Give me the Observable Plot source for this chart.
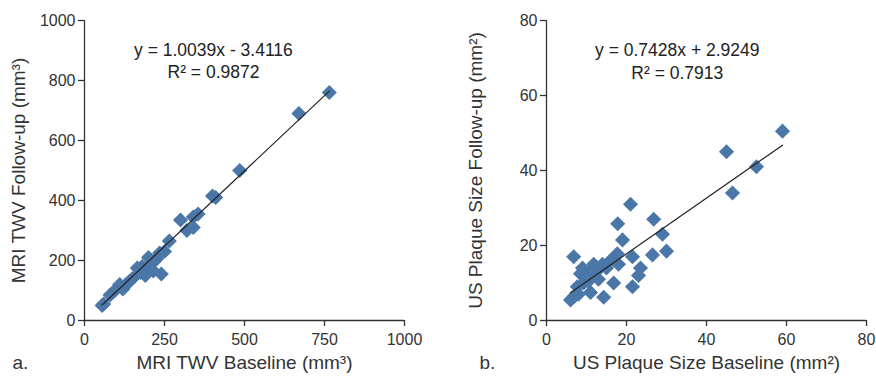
<!DOCTYPE html>
<html>
<head>
<meta charset="utf-8">
<script src="https://cdn.jsdelivr.net/npm/d3@7"></script>
<script src="https://cdn.jsdelivr.net/npm/@observablehq/plot@0.6"></script>
<style>
  html, body { margin: 0; padding: 0; background: #fff; }
  #wrap { display: flex; width: 876px; height: 380px; }
</style>
</head>
<body>
<div id="wrap"></div>
<script>
// ---- Panel a: MRI TWV (mm³)
const aBaseline = [765, 670, 485, 400, 410, 355, 340, 300, 320, 340, 265, 235, 225, 215, 200, 180, 165, 240, 215, 190, 150, 140, 110, 95, 80, 60, 55, 200, 175, 130, 250, 120];
const aFollow   = [760, 690, 500, 415, 410, 355, 345, 335, 300, 310, 265, 225, 205, 195, 185, 180, 175, 155, 165, 150, 140, 130, 120, 100, 85, 55, 50, 210, 160, 120, 230, 105];
const aSlope = 1.0039, aIntercept = -3.4116, aR2 = "0.9872";
const aXTicks = [0, 250, 500, 750, 1000];
const aYTicks = [0, 200, 400, 600, 800, 1000];

// ---- Panel b: US plaque size (mm²)
const bBaseline = [59, 45, 52.5, 46.5, 21, 17.8, 26.8, 29, 19, 6.8, 30, 26.5, 21.5, 23.5, 23, 16.8, 21.5, 14.3, 6, 11, 8.5, 11.8, 16, 17.7, 9.3, 7.7, 12.7, 15, 10, 8, 13, 18, 9, 11, 7, 14, 10.5, 12];
const bFollow   = [50.5, 45, 41, 34, 31, 25.8, 27, 23, 21.5, 17, 18.5, 17.5, 17, 14, 12, 10, 9, 6.2, 5.5, 7.5, 12.5, 15, 16, 17.8, 10, 9, 13.3, 14, 12, 7, 11, 15, 14, 13, 6.5, 15, 10.5, 14];
const bSlope = 0.7428, bIntercept = 2.9249, bR2 = "0.7913";
const bXTicks = [0, 20, 40, 60, 80];
const bYTicks = [0, 20, 40, 60, 80];

const FONT = "Liberation Sans, Arial, Helvetica, sans-serif";
const DOT = "#4a76a8";
const AX = "#333";
const fmt = d3.format("d");

function panel(o) {
  const pts = o.xs.map((x, i) => ({x, y: o.ys[i]}));
  const line = d3.extent(o.xs).map(x => ({x, y: o.slope * x + o.intercept}));
  return Plot.plot({
    width: 438, height: 380,
    marginLeft: o.ml, marginRight: o.mr, marginTop: 20, marginBottom: 60,
    style: {fontFamily: FONT, fontSize: "16px", color: AX, background: "#fff"},
    x: {domain: o.xDomain, ticks: o.xTicks},
    y: {domain: o.yDomain, ticks: o.yTicks},
    marks: [
      Plot.dot(pts, {x: "x", y: "y", symbol: "diamond2", r: 6.8, fill: DOT, stroke: "none"}),
      Plot.line(line, {x: "x", y: "y", stroke: "#222", strokeWidth: 1.2}),
      Plot.ruleY([o.yDomain[0]], {stroke: AX, strokeWidth: 1.3}),
      Plot.ruleX([o.xDomain[0]], {stroke: AX, strokeWidth: 1.3}),
      Plot.axisX({ticks: o.xTicks, tickSize: 6, tickPadding: 7, tickFormat: fmt, label: null, fontSize: 16, fill: AX, stroke: AX, strokeWidth: 1.3}),
      Plot.axisY({ticks: o.yTicks, tickSize: 6, tickPadding: 3, tickFormat: fmt, label: null, fontSize: 16, fill: AX, stroke: AX, strokeWidth: 1.3}),
      Plot.text([o.eq], {x: o.eqX, y: o.eqY1, text: d => d, fontSize: 17.5, fill: "#222"}),
      Plot.text(["R² = " + o.r2], {x: o.eqX, y: o.eqY2, text: d => d, fontSize: 17.5, fill: "#222"}),
      Plot.text([o.xLabel], {frameAnchor: "bottom", dy: 48, text: d => d, fontSize: 19, fill: AX}),
      Plot.text([o.yLabel], {frameAnchor: "left", dx: o.yLabelDx, rotate: -90, textAnchor: "middle", text: d => d, fontSize: 19, fill: AX}),
      Plot.text([o.tag], {frameAnchor: "bottom-left", dx: o.tagDx, dy: 48, textAnchor: "start", text: d => d, fontSize: 19, fill: AX})
    ]
  });
}

const wrap = document.getElementById("wrap");
wrap.append(panel({
  xs: aBaseline, ys: aFollow, slope: aSlope, intercept: aIntercept, r2: aR2,
  eq: "y = 1.0039x - 3.4116", eqX: 403, eqY1: 900, eqY2: 827,
  xDomain: [0, 1000], yDomain: [0, 1000], xTicks: aXTicks, yTicks: aYTicks,
  ml: 84, mr: 34,
  xLabel: "MRI TWV Baseline (mm³)", yLabel: "MRI TWV Follow-up (mm³)",
  yLabelDx: -66, tag: "a.", tagDx: -72
}));
wrap.append(panel({
  xs: bBaseline, ys: bFollow, slope: bSlope, intercept: bIntercept, r2: bR2,
  eq: "y = 0.7428x + 2.9249", eqX: 32.7, eqY1: 72, eqY2: 66,
  xDomain: [0, 80], yDomain: [0, 80], xTicks: bXTicks, yTicks: bYTicks,
  ml: 108, mr: 10,
  xLabel: "US Plaque Size Baseline (mm²)", yLabel: "US Plaque Size Follow-up (mm²)",
  yLabelDx: -71, tag: "b.", tagDx: -67
}));
</script>
</body>
</html>
